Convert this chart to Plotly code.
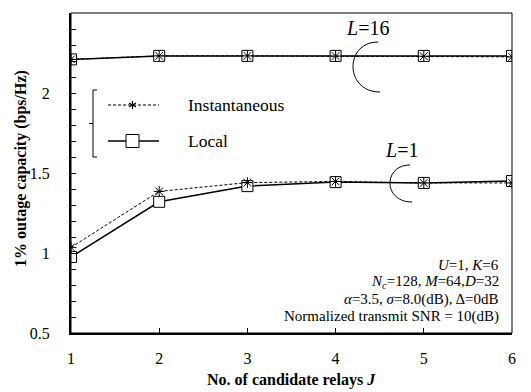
import plotly.graph_objects as go
import math

J = [1, 2, 3, 4, 5, 6]
inst_L16 = [2.21, 2.232, 2.232, 2.231, 2.230, 2.226]
local_L16 = [2.21, 2.232, 2.232, 2.232, 2.232, 2.232]
inst_L1 = [1.035, 1.385, 1.440, 1.447, 1.438, 1.438]
local_L1 = [0.975, 1.320, 1.418, 1.443, 1.438, 1.450]

yticks = [0.5, 1, 1.5, 2, 2.5]
ytick_labels = ["0.5", "1", "1.5", "2", "2.5"]
xticks = J

FONT = "Liberation Serif"
fig = go.Figure()


def add_local(y):
    fig.add_trace(go.Scatter(
        x=J, y=y, mode="lines+markers", name="Local", showlegend=False,
        line=dict(color="black", width=1.5),
        marker=dict(symbol="square", size=11, color="white",
                    line=dict(color="black", width=1)),
    ))


def add_inst(y):
    fig.add_trace(go.Scatter(
        x=J, y=y, mode="lines+markers", name="Instantaneous", showlegend=False,
        line=dict(color="black", width=1, dash="3px,2px"),
        marker=dict(symbol="asterisk-open", size=9,
                    line=dict(color="black", width=1)),
    ))


add_local(local_L16)
add_local(local_L1)
add_inst(inst_L16)
add_inst(inst_L1)

# page offset (body margin) of 8px
OFF = 8
W, H = 531 - OFF, 392 - OFF
# plot area in window pixels: x 71..512, y 13..333
L, R, T, B = 71 - OFF, 531 - 512, 13 - OFF, 392 - 333
pw, ph = W - L - R, H - T - B


def px(x):
    return (x - OFF - L) / pw


def py(y):
    return (H - B - (y - OFF)) / ph


def fnt(size):
    return dict(family=FONT, size=size, color="black")


shapes = []
shapes.append(dict(type="rect", xref="paper", yref="paper", x0=0, y0=0, x1=1, y1=1,
                   line=dict(color="black", width=1)))


def arc(x_top, y_top, x_bot, y_bot, x_left):
    a0, b0 = px(x_top), py(y_top)
    a1, b1 = px(x_bot), py(y_bot)
    c = (px(x_left) - 0.125 * (a0 + a1)) / 0.75
    return dict(type="path", xref="paper", yref="paper",
                path=f"M {a0},{b0} C {c},{b0} {c},{b1} {a1},{b1}",
                line=dict(color="black", width=1))


shapes.append(arc(378, 42, 380, 92, 353))
shapes.append(arc(410, 165, 412, 202, 390))

# legend bracket
bx, by0, by1 = 93, 90, 157
shapes.append(dict(type="path", xref="paper", yref="paper",
                   path=f"M {px(bx+4)},{py(by0)} L {px(bx)},{py(by0)} L {px(bx)},{py(by1)} L {px(bx+4)},{py(by1)}",
                   line=dict(color="black", width=1)))
shapes.append(dict(type="line", xref="paper", yref="paper",
                   x0=px(bx - 4), x1=px(bx), y0=py(123.5), y1=py(123.5),
                   line=dict(color="black", width=1)))
ly1, ly2 = 105, 141
shapes.append(dict(type="line", xref="paper", yref="paper",
                   x0=px(108), x1=px(159), y0=py(ly1), y1=py(ly1),
                   line=dict(color="black", width=1, dash="3px,2px")))
shapes.append(dict(type="line", xref="paper", yref="paper",
                   x0=px(108), x1=px(159), y0=py(ly2), y1=py(ly2),
                   line=dict(color="black", width=1.5)))
shapes.append(dict(type="rect", xref="paper", yref="paper",
                   x0=px(126), x1=px(139), y0=py(ly2 + 6.5), y1=py(ly2 - 6.5),
                   fillcolor="white", line=dict(color="black", width=1)))
cx, cy, r = 132.5, ly1, 4
for ang in (90, 30, -30):
    dx = r * math.cos(math.radians(ang))
    dy = r * math.sin(math.radians(ang))
    shapes.append(dict(type="line", xref="paper", yref="paper",
                       x0=px(cx - dx), x1=px(cx + dx), y0=py(cy + dy), y1=py(cy - dy),
                       line=dict(color="black", width=1.2)))

ann = []
ann.append(dict(xref="paper", yref="paper", x=px(186), y=py(ly1), text="Instantaneous",
                showarrow=False, xanchor="left", yanchor="middle", font=fnt(17.5)))
ann.append(dict(xref="paper", yref="paper", x=px(186), y=py(ly2), text="Local",
                showarrow=False, xanchor="left", yanchor="middle", font=fnt(17.5)))
ann.append(dict(xref="paper", yref="paper", x=px(367), y=py(28), text="<i>L</i>=16",
                showarrow=False, xanchor="center", yanchor="middle", font=fnt(20)))
ann.append(dict(xref="paper", yref="paper", x=px(401), y=py(150), text="<i>L</i>=1",
                showarrow=False, xanchor="center", yanchor="middle", font=fnt(20)))
info = [
    "<i>U</i>=1, <i>K</i>=6",
    "<i>N<sub>c</sub></i>=128, <i>M</i>=64,<i>D</i>=32",
    "<i>α</i>=3.5, <i>σ</i>=8.0(dB), Δ=0dB",
    "Normalized transmit SNR = 10(dB)",
]
for i, t in enumerate(info):
    ann.append(dict(xref="paper", yref="paper", x=px(501), y=py(265 + 17.3 * i), text=t,
                    showarrow=False, xanchor="right", yanchor="middle", font=fnt(15)))
ann.append(dict(xref="paper", yref="paper", x=px(291), y=py(380),
                text="<b>No. of candidate relays <i>J</i></b>", showarrow=False,
                xanchor="center", yanchor="middle", font=fnt(16)))
ann.append(dict(xref="paper", yref="paper", x=px(21), y=py(169),
                text="<b>1% outage capacity (bps/Hz)</b>", showarrow=False, textangle=-90,
                xanchor="center", yanchor="middle", font=fnt(16)))

fig.update_layout(
    width=W, height=H, margin=dict(l=L, r=R, t=T, b=B, autoexpand=False),
    paper_bgcolor="white", plot_bgcolor="white",
    shapes=shapes, annotations=ann, showlegend=False,
    xaxis=dict(range=[1, 6], tickvals=xticks, ticktext=[str(v) for v in xticks],
               ticks="inside", ticklen=5, tickcolor="black", showgrid=False, zeroline=False,
               showline=True, linecolor="black", linewidth=2, automargin=False,
               tickfont=fnt(16), ticklabelstandoff=10),
    yaxis=dict(range=[0.5, 2.5], tickvals=yticks, ticktext=ytick_labels,
               ticks="inside", ticklen=5, tickcolor="black", showgrid=False, zeroline=False,
               showline=True, linecolor="black", linewidth=2, automargin=False,
               minor=dict(dtick=0.1, ticks="inside", ticklen=5, tickcolor="black", showgrid=False),
               tickfont=fnt(16), ticklabelstandoff=16),
)

fig.write_html("out.html")
